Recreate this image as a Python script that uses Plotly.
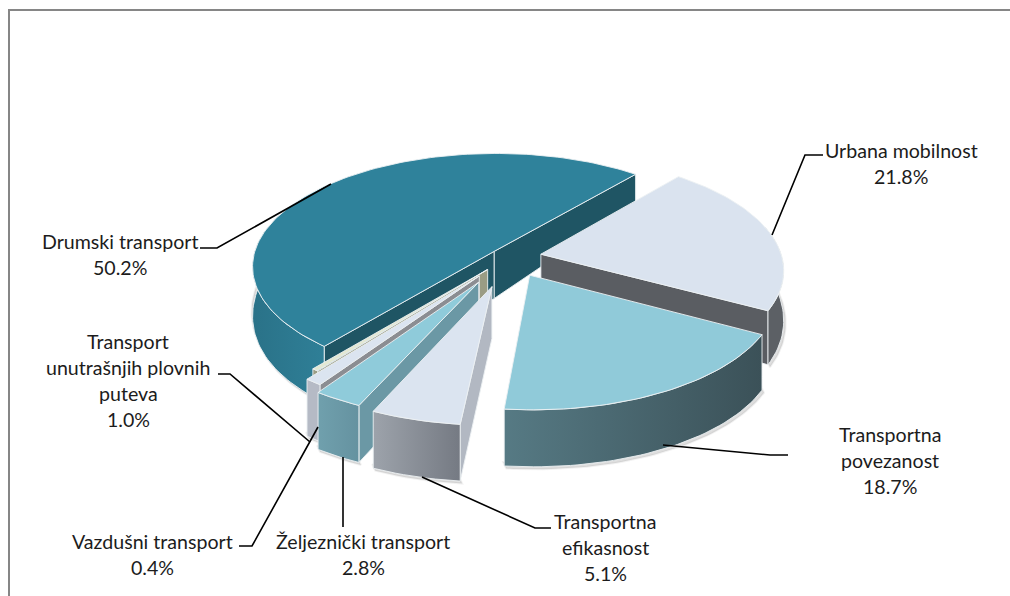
import numpy as np
import plotly.graph_objects as go

# ---- data ----
names = [["Urbana mobilnost"], ["Transportna", "povezanost"], ["Transportna", "efikasnost"],
         ["Željeznički transport"], ["Transport", "unutrašnjih plovnih", "puteva"],
         ["Vazdušni transport"], ["Drumski transport"]]
shares = [21.8, 18.7, 5.1, 2.8, 1.0, 0.4, 50.2]

# ---- style ----
pulls = [0.135, 0.18, 0.265, 0.25, 0.205, 0.14, 0.08]
tops = ["#dae3ef", "#90cad9", "#dbe4f0", "#8fcbda", "#dbe4f0", "#e3e8d2", "#2f829b"]
cuts = ["#5a5d62", "#3c5359", "#b2b8c2", "#6b98a5", "#8b8d92", "#9a9c84", "#1f5564"]
sides = [("#5c6065", "#5c6065"), ("#567a84", "#3b5158"), ("#9da3ab", "#757a83"),
         ("#70a0ad", "#6592a0"), ("#b5bac5", "#b5bac5"), ("#9a9c84", "#9a9c84"),
         ("#2a7288", "#2f7f97")]
paint_order = [6, 0, 5, 4, 3, 2, 1]
label_pos = [(901, 150), (890, 434), (605, 521), (363, 541), (128, 341), (152, 541), (120, 241)]
leaders = [[(823, 155), (805, 155), (772, 235)],
           [(788, 455), (770, 455), (663, 445)],
           [(551, 528), (535, 528), (422, 477)],
           [(343, 527), (343, 457)],
           [(218, 374), (230, 374), (310, 442)],
           [(239, 546), (252, 546), (318, 427)],
           [(200, 248), (217, 248), (331, 184)]]
CX, CY, RX, RY, K = 509, 257, 241, 112, 0.13
START = 50.0
EDGE = "rgba(236,241,243,0.9)"
FONT = "Lato"
FS = 19.6


def project(X, Y, low=False):
    X, Y = np.asarray(X, float), np.asarray(Y, float)
    w = 1 / (1 + K * Y)
    sx = CX + RX * X * w
    sy = CY - RY * Y * w
    if low:
        sy = sy + (48 - 17 * Y - 8 * Y ** 2)
    return sx, sy


def poly(x, y, color, line=EDGE, lw=1.0, grad=None):
    kw = dict(x=np.r_[x, x[0]], y=np.r_[y, y[0]], mode="lines", fill="toself",
              line=dict(color=line, width=lw), hoverinfo="skip", showlegend=False)
    if grad:
        kw["fillgradient"] = dict(type="horizontal", colorscale=[[0, grad[0]], [1, grad[1]]])
    else:
        kw["fillcolor"] = color
    return go.Scatter(**kw)


fig = go.Figure()
angles = START - np.cumsum([0] + shares) * 3.6
for i in paint_order:
    a0, a1 = np.radians(angles[i]), np.radians(angles[i + 1])
    mid = (a0 + a1) / 2
    ox, oy = pulls[i] * np.cos(mid), pulls[i] * np.sin(mid)
    t = np.linspace(a0, a1, max(8, int(abs(a1 - a0) * 40)))
    X, Y = ox + np.cos(t), oy + np.sin(t)
    xt, yt = project(X, Y)
    xb, yb = project(X, Y, True)
    tx, ty = project([ox], [oy])
    bx, by = project([ox], [oy], True)
    # soft contact shadow
    front = np.sin(t) < 0.15
    if front.sum() > 1:
        sx = np.r_[xb[front] - 1, (xb[front] + 2)[::-1]]
        sy = np.r_[yb[front] - 4, (yb[front] + 2.5)[::-1]]
        fig.add_trace(poly(sx, sy, "rgba(90,90,90,0.2)", line="rgba(90,90,90,0.08)", lw=2))
    # cut faces that look towards the viewer
    if np.cos(a0) < 0:
        fig.add_trace(poly(np.r_[tx, xt[0], xb[0], bx], np.r_[ty, yt[0], yb[0], by], cuts[i]))
    if np.cos(a1) > 0:
        fig.add_trace(poly(np.r_[tx, xt[-1], xb[-1], bx], np.r_[ty, yt[-1], yb[-1], by], cuts[i]))
    # outer wall
    vis = np.sin(t) < 0.25
    if vis.sum() > 1:
        fig.add_trace(poly(np.r_[xt[vis], xb[vis][::-1]], np.r_[yt[vis], yb[vis][::-1]],
                           sides[i][0], grad=sides[i]))
    # top face
    fig.add_trace(poly(np.r_[tx, xt], np.r_[ty, yt], tops[i]))

# leader lines
for pts in leaders:
    fig.add_trace(go.Scatter(x=[p[0] for p in pts], y=[p[1] for p in pts], mode="lines",
                             line=dict(color="black", width=1.6), hoverinfo="skip",
                             showlegend=False))

# labels
annotations = []
for nm, v, (lx, ly) in zip(names, shares, label_pos):
    for j, txt in enumerate(nm + [f"{v:.1f}%"]):
        annotations.append(dict(x=lx, y=ly + j * 26.2, text=txt, showarrow=False, xref="x", yref="y",
                                xanchor="center", yanchor="middle",
                                font=dict(family=FONT, size=FS, color="#1c1c1c")))

fig.update_layout(
    width=1010, height=596, margin=dict(l=0, r=0, t=0, b=0),
    paper_bgcolor="white", plot_bgcolor="white", showlegend=False,
    xaxis=dict(range=[0, 1010], visible=False, fixedrange=True),
    yaxis=dict(range=[596, 0], visible=False, fixedrange=True),
    annotations=annotations,
    shapes=[dict(type="line", x0=9, x1=9, y0=10, y1=596, line=dict(color="#868686", width=2)),
            dict(type="line", x0=8, x1=1010, y0=10, y1=10, line=dict(color="#868686", width=2))],
)
fig.write_html("out.html", post_script="document.body.style.margin='0';",
               config=dict(displayModeBar=False))
